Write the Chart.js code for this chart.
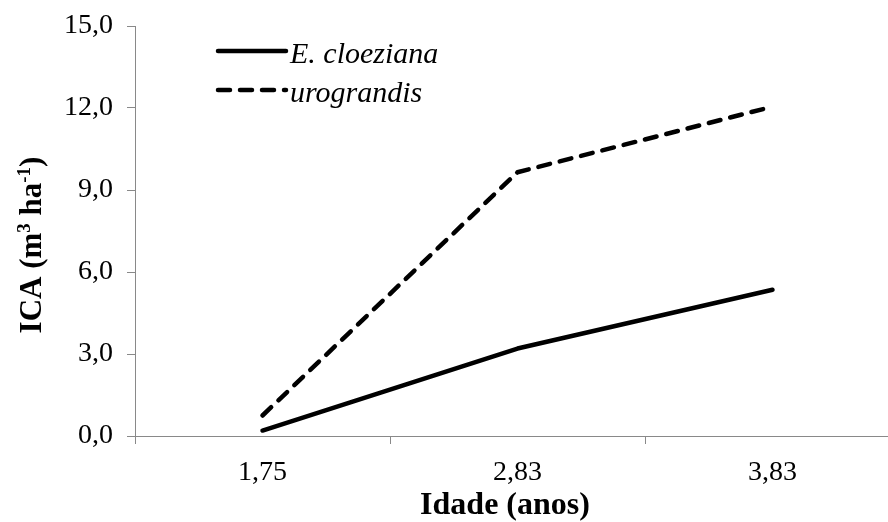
<!DOCTYPE html>
<html lang="pt">
<head>
<meta charset="utf-8">
<title>ICA por idade</title>
<script src="https://cdn.jsdelivr.net/npm/chart.js@4/dist/chart.umd.min.js"></script>
<style>
    html, body { margin: 0; padding: 0; background: #fff; overflow: hidden; }
    /* a área do gráfico passa um pouco da janela à direita, como no original */
    #wrap { position: relative; width: 900px; height: 522px; }
</style>
</head>
<body>
<div id="wrap"><canvas id="icaChart"></canvas></div>
<script>
/* ------- dados ------- */
const idades = ['1,75', '2,83', '3,83'];
const cloeziana = [0.2, 3.2, 5.35];
const urograndis = [0.75, 9.65, 12.05];
const yTickLabels = ['0,0', '3,0', '6,0', '9,0', '12,0', '15,0'];
const serieNomes = ['E. cloeziana', 'urograndis'];
const tituloX = 'Idade (anos)';
// [texto, sobrescrito?]
const tituloY = [['ICA (m', false], ['3', true], [' ha', false], ['-1', true], [')', false]];

const FONT = "'Liberation Serif', 'Times New Roman', serif";
const AXIS = '#898989';

/* ------- legenda e títulos dos eixos ------- */
const decor = {
    id: 'decor',
    afterDraw(chart) {
        const { ctx, chartArea } = chart;
        ctx.save();

        // legenda no canto superior esquerdo
        chart.data.datasets.forEach((ds, i) => {
            const y = chartArea.top + 25 + i * 39;
            ctx.beginPath();
            ctx.lineWidth = ds.borderWidth;
            ctx.strokeStyle = ds.borderColor;
            ctx.lineCap = 'round';
            ctx.setLineDash(ds.borderDash || []);
            ctx.moveTo(chartArea.left + 83, y);
            ctx.lineTo(chartArea.left + 151, y);
            ctx.stroke();
            ctx.setLineDash([]);
            ctx.fillStyle = '#000';
            ctx.font = 'italic 30px ' + FONT;
            ctx.textBaseline = 'alphabetic';
            ctx.textAlign = 'left';
            ctx.fillText(ds.label, chartArea.left + 155, y + 12);
        });

        // título X
        ctx.font = 'bold 32px ' + FONT;
        ctx.textAlign = 'center';
        ctx.fillText(tituloX, 505, 514);

        // título Y, com sobrescritos
        const big = 'bold 31px ' + FONT, small = 'bold 19px ' + FONT;
        let w = 0;
        tituloY.forEach(([t, sup]) => { ctx.font = sup ? small : big; w += ctx.measureText(t).width; });
        ctx.translate(41, 245);
        ctx.rotate(-Math.PI / 2);
        ctx.textAlign = 'left';
        let x = -w / 2;
        tituloY.forEach(([t, sup]) => {
            ctx.font = sup ? small : big;
            ctx.fillText(t, x, sup ? -11 : 0);
            x += ctx.measureText(t).width;
        });
        ctx.restore();
    }
};

/* ------- gráfico ------- */
new Chart(document.getElementById('icaChart'), {
    type: 'line',
    data: {
        labels: idades,
        datasets: [
            {
                label: serieNomes[0],
                data: cloeziana,
                borderColor: '#000',
                borderWidth: 4.5,
                borderCapStyle: 'round',
                borderJoinStyle: 'round',
                pointRadius: 0,
                tension: 0,
            },
            {
                label: serieNomes[1],
                data: urograndis,
                borderColor: '#000',
                borderWidth: 4.5,
                borderDash: [12, 10],
                borderCapStyle: 'round',
                borderJoinStyle: 'round',
                pointRadius: 0,
                tension: 0,
            }
        ]
    },
    options: {
        responsive: true,
        maintainAspectRatio: false,
        animation: false,
        layout: { padding: { top: 26, left: 0, right: 0, bottom: 0 } },
        plugins: {
            legend: { display: false },
            tooltip: { enabled: false }
        },
        scales: {
            x: {
                offset: true,
                grid: { offset: true, drawOnChartArea: false, tickLength: 8, color: AXIS },
                border: { color: AXIS, width: 1 },
                ticks: { color: '#000', padding: 12, maxRotation: 0, font: { family: FONT, size: 28 } },
                afterFit: s => { s.height = 86; }
            },
            y: {
                min: 0,
                max: 15,
                grid: { drawOnChartArea: false, tickLength: 8, color: AXIS },
                border: { color: AXIS, width: 1 },
                ticks: {
                    stepSize: 3,
                    color: '#000',
                    padding: 14,
                    font: { family: FONT, size: 28 },
                    callback: (v, i) => yTickLabels[i]
                },
                afterFit: s => {
                    s.width = 135;
                    s.paddingTop = 0;   // o topo fica só com o padding do layout
                    s.paddingBottom = 0;
                }
            }
        }
    },
    plugins: [decor]
});
</script>
</body>
</html>
